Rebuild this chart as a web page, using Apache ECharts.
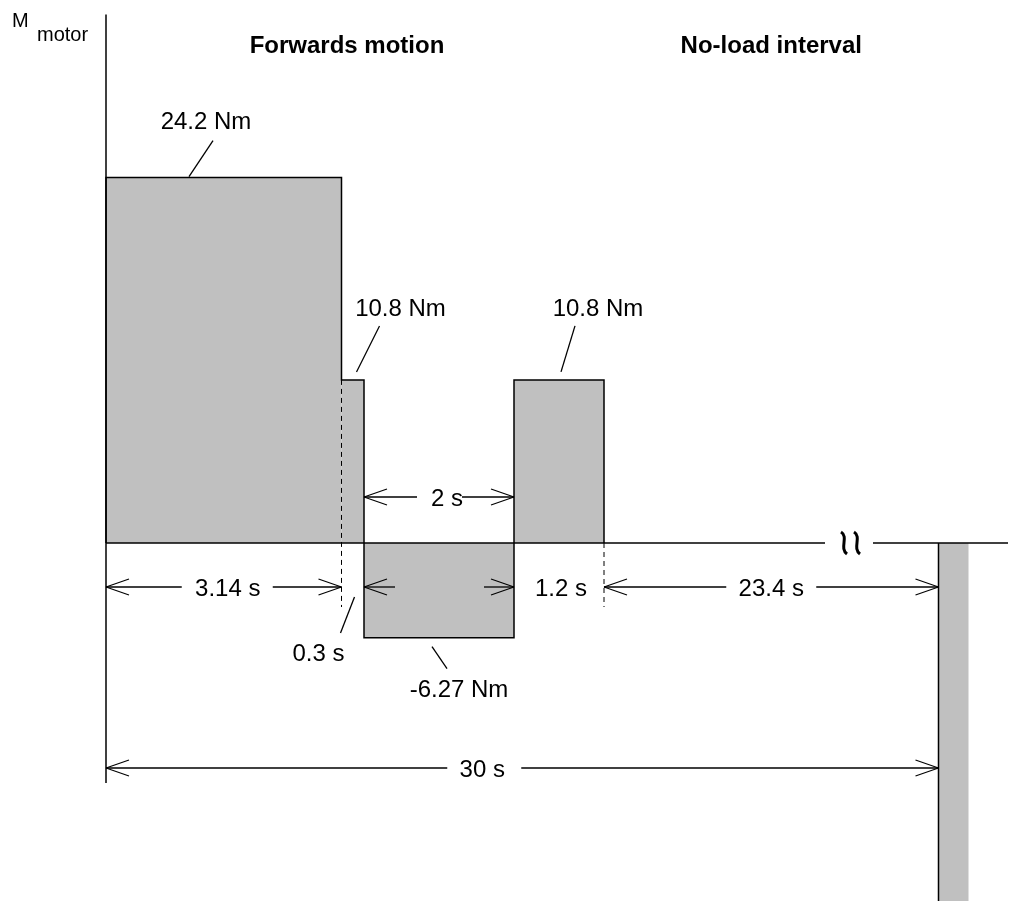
<!DOCTYPE html>
<html><head><meta charset="utf-8">
<script src="https://cdn.jsdelivr.net/npm/echarts@6/dist/echarts.min.js"></script>
<style>html,body{margin:0;padding:0;background:#fff}#c{width:1011px;height:901px}</style>
</head><body><div id="c"></div>
<script>
// ---- data ----
const phaseNames = ['Forwards motion', 'No-load interval'];
const segmentDurations = [3.14, 0.3, 2, 1.2, 23.4];   // s
const segmentTorques = [24.2, 10.8, -6.27, 10.8, 0];  // Nm
const nextCycleTorque = -24.2;                        // start of next section (cut off)
const nextCycleDuration = 0.4;
const torqueLabels = ['24.2 Nm', '10.8 Nm', '-6.27 Nm', '10.8 Nm'];
const durationLabels = ['3.14 s', '0.3 s', '2 s', '1.2 s', '23.4 s', '30 s'];
const yAxisName = ['M', 'motor'];

// ---- axis layout (broken time axis) ----
const AXIS_MAX = 12;
const CYCLE_POS = 11.1;
const BREAK_MARK_POS = 9.96;
const Y_MIN = -20, Y_MAX = 35;

const starts = []; let acc = 0;
segmentDurations.forEach(d => { starts.push(acc); acc += d; });
const cycleEnd = acc;
const breakStart = starts[4];
function axisX(t) {
  if (t <= breakStart) return t;
  if (t <= cycleEnd) return breakStart + (t - breakStart) * (CYCLE_POS - breakStart) / (cycleEnd - breakStart);
  return CYCLE_POS + (t - cycleEnd);
}

const barData = [];
for (let i = 0; i < 4; i++) barData.push([axisX(starts[i]), axisX(starts[i] + segmentDurations[i]), segmentTorques[i]]);
barData.push([axisX(cycleEnd), axisX(cycleEnd + nextCycleDuration), nextCycleTorque]);

const FONT = '"Liberation Sans", Arial, sans-serif';
const INK = '#000';
const TY = 2; // text vertical nudge

function txt(x, y, text, size, opts) {
  opts = opts || {};
  return { type: 'text', x: x, y: y + TY, silent: true,
    style: { text: text, fill: INK, font: (opts.bold ? 'bold ' : '') + size + 'px ' + FONT,
      align: opts.align || 'center', verticalAlign: 'middle' } };
}
function ln(x1, y1, x2, y2, w, dash) {
  return { type: 'line', silent: true, shape: { x1: x1, y1: y1, x2: x2, y2: y2 },
    style: { stroke: INK, lineWidth: w || 1.3, lineDash: dash || null } };
}

const chart = echarts.init(document.getElementById('c'), null, { renderer: 'canvas' });
chart.setOption({
  animation: false,
  backgroundColor: '#fff',
  grid: { left: 106, width: AXIS_MAX * 75, top: 14.5, height: (Y_MAX - Y_MIN) * 15.1 },
  xAxis: { type: 'value', min: 0, max: AXIS_MAX, show: false },
  yAxis: { type: 'value', min: Y_MIN, max: Y_MAX, show: false },
  series: [
    {
      type: 'custom', silent: true,
      data: barData,
      encode: { x: [0, 1], y: 2 },
      renderItem: function (params, api) {
        const p0 = api.coord([api.value(0), 0]);
        const p1 = api.coord([api.value(1), api.value(2)]);
        return { type: 'rect',
          shape: { x: p0[0], y: Math.min(p0[1], p1[1]), width: p1[0] - p0[0], height: Math.abs(p1[1] - p0[1]) },
          style: { fill: '#c0c0c0' } };
      }
    },
    {
      type: 'custom', silent: true,
      data: [[0, 0]],
      encode: { x: 0, y: 1 },
      renderItem: function (params, api) {
        const c = (t, v) => api.coord([axisX(t), v]);
        const X = t => c(t, 0)[0];
        const zeroY = c(0, 0)[1];
        const els = [];

        // profile outline (step)
        const pts = [c(0, 0)];
        for (let i = 0; i < 4; i++) {
          pts.push(c(starts[i], segmentTorques[i]));
          pts.push(c(starts[i] + segmentDurations[i], segmentTorques[i]));
        }
        pts.push(c(starts[3] + segmentDurations[3], 0));
        els.push({ type: 'polyline', silent: true, shape: { points: pts }, style: { stroke: INK, lineWidth: 1.5, fill: null } });
        // next cycle bar left edge
        els.push(ln(X(cycleEnd), zeroY, X(cycleEnd), c(cycleEnd, nextCycleTorque)[1], 1.5));

        // axes
        const y0 = X(0);
        els.push(ln(y0, c(0, Y_MAX)[1], y0, zeroY + 240, 1.5));
        const bm = api.coord([BREAK_MARK_POS, 0])[0];
        els.push(ln(y0, zeroY, bm - 28, zeroY, 1.5));
        els.push(ln(bm + 20, zeroY, api.getWidth() - 3, zeroY, 1.5));
        // break mark
        [-7, 6].forEach(o => {
          els.push({ type: 'bezierCurve', silent: true,
            shape: { x1: bm + o - 5, y1: zeroY - 11, cpx1: bm + o + 3, cpy1: zeroY - 6, cpx2: bm + o - 7, cpy2: zeroY + 5, x2: bm + o + 1, y2: zeroY + 11 },
            style: { stroke: INK, lineWidth: 3, fill: null } });
        });

        // dashed separators
        const tEnd1 = starts[1];
        els.push(ln(X(tEnd1), c(tEnd1, segmentTorques[1])[1], X(tEnd1), zeroY + 64, 1, [5, 4]));
        els.push(ln(X(breakStart), zeroY, X(breakStart), zeroY + 64, 1, [5, 4]));

        // dimension helper
        const AL = 23, AW = 8;
        function dim(t1, t2, y, label, dx, gapL, gapR, arrows) {
          const x1 = X(t1), x2 = X(t2);
          const cx = (x1 + x2) / 2 + dx;
          if (arrows) {
            els.push(ln(x1, y, cx - gapL, y));
            els.push(ln(cx + gapR, y, x2, y));
            els.push(ln(x1, y, x1 + AL, y - AW)); els.push(ln(x1, y, x1 + AL, y + AW));
            els.push(ln(x2, y, x2 - AL, y - AW)); els.push(ln(x2, y, x2 - AL, y + AW));
          }
          if (label) els.push(txt(cx, y, label, 24));
        }
        const row1 = zeroY + 44, row2 = zeroY - 46, row3 = zeroY + 225;
        dim(starts[0], starts[1], row1, durationLabels[0], 4, 46, 45, true);
        dim(starts[2], starts[3], row2, durationLabels[2], 8, 30, 15, true);
        dim(starts[2], starts[3], row1, null, 0, 44, 45, true);
        dim(starts[3], starts[4], row1, durationLabels[3], 2, 0, 0, false);
        dim(starts[4], cycleEnd, row1, durationLabels[4], 0, 45, 45, true);
        dim(0, cycleEnd, row3, durationLabels[5], -40, 35, 39, true);

        // leader labels
        function lead(anchor, a, b, t, label) {
          els.push(ln(anchor[0] + a[0], anchor[1] + a[1], anchor[0] + b[0], anchor[1] + b[1], 1.3));
          els.push(txt(anchor[0] + t[0], anchor[1] + t[1], label, 24));
        }
        lead(c(starts[0], segmentTorques[0]), [83, -1], [107, -37], [100, -57], torqueLabels[0]);
        lead(c(starts[1], segmentTorques[1]), [15, -8], [38, -54], [59, -73], torqueLabels[1]);
        lead(c(starts[3], segmentTorques[3]), [47, -8], [61, -54], [84, -73], torqueLabels[3]);
        lead(c(starts[2], segmentTorques[2]), [68, 9], [83, 31], [95, 51], torqueLabels[2]);
        lead(c(starts[1], 0), [13, 54], [-1, 90], [-23, 109], durationLabels[1]);

        // phase titles
        els.push(txt((X(0) + X(breakStart)) / 2 - 8, 44, phaseNames[0], 24, { bold: true }));
        els.push(txt((X(breakStart) + X(cycleEnd)) / 2, 44, phaseNames[1], 24, { bold: true }));

        // y axis name
        els.push(txt(12, 19, yAxisName[0], 20, { align: 'left' }));
        els.push(txt(37, 33, yAxisName[1], 20, { align: 'left' }));

        return { type: 'group', children: els };
      }
    }
  ]
});
</script>
</body></html>
